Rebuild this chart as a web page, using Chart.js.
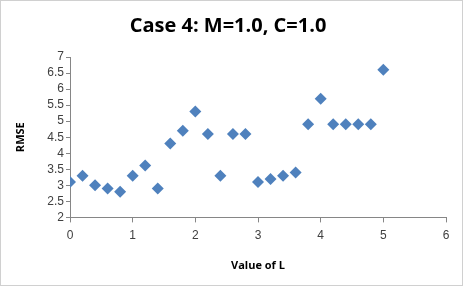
<!DOCTYPE html>
<html>
<head>
<meta charset="utf-8">
<script src="https://cdn.jsdelivr.net/npm/chart.js@4"></script>
<style>
  html, body { margin: 0; padding: 0; background: #fff; }
  #wrap { width: 466px; height: 287px; }
</style>
</head>
<body>
<div id="wrap"><canvas id="rmseChart" width="466" height="287"></canvas></div>
<script>
// L values and RMSE
const lValues = [0, 0.2, 0.4, 0.6, 0.8, 1.0, 1.2, 1.4, 1.6, 1.8, 2.0, 2.2, 2.4, 2.6, 2.8,
                 3.0, 3.2, 3.4, 3.6, 3.8, 4.0, 4.2, 4.4, 4.6, 4.8, 5.0];
const rmseValues = [3.1, 3.3, 3.0, 2.9, 2.8, 3.3, 3.62, 2.9, 4.3, 4.7, 5.3, 4.6, 3.3, 4.6, 4.6,
                    3.1, 3.2, 3.3, 3.4, 4.9, 5.7, 4.9, 4.9, 4.9, 4.9, 6.6];
const titleText = 'Case 4: M=1.0, C=1.0';
const xTitle = 'Value of L';
const yTitle = 'RMSE';

const points = lValues.map((l, i) => ({ x: l, y: rmseValues[i] }));

// thin gray frame around the whole chart, like the spreadsheet export
const framePlugin = {
    id: 'frame',
    beforeDraw(chart) {
        const ctx = chart.ctx;
        ctx.save();
        ctx.fillStyle = '#fff';
        ctx.fillRect(0, 0, chart.width, chart.height);
        ctx.strokeStyle = '#d0d0d0';
        ctx.lineWidth = 1;
        ctx.strokeRect(0.5, 0.5, chart.width - 4, chart.height - 2);
        ctx.restore();
    }
};

const ctx = document.getElementById('rmseChart').getContext('2d');
new Chart(ctx, {
    type: 'scatter',
    data: {
        datasets: [{
            label: 'RMSE',
            data: points,
            pointStyle: 'rectRot',
            pointRadius: 6,
            pointHoverRadius: 6,
            backgroundColor: '#4F81BD',
            borderColor: '#4F81BD',
            borderWidth: 0
        }]
    },
    options: {
        responsive: false,
        animation: false,
        layout: { padding: { top: 10, right: 20, bottom: 11, left: 10 } },
        plugins: {
            legend: { display: false },
            tooltip: { enabled: false },
            title: {
                display: true,
                text: titleText,
                color: '#000',
                font: { family: 'Open Sans', size: 20, weight: 'bold' },
                padding: { top: 4, bottom: 19 }
            }
        },
        scales: {
            x: {
                type: 'linear',
                min: 0,
                max: 6,
                ticks: {
                    stepSize: 1,
                    color: '#404040',
                    font: { family: 'Liberation Sans', size: 12 },
                    padding: 6
                },
                grid: {
                    drawOnChartArea: false,
                    drawTicks: true,
                    tickLength: 5,
                    color: '#868686'
                },
                border: { color: '#868686' },
                title: {
                    display: true,
                    text: xTitle,
                    color: '#000',
                    font: { family: 'Open Sans', size: 11, weight: 'bold' },
                    padding: { top: 10 }
                }
            },
            y: {
                type: 'linear',
                min: 2,
                max: 7,
                afterFit(scale) { scale.width = 60; },
                ticks: {
                    stepSize: 0.5,
                    autoSkip: false,
                    color: '#404040',
                    font: { family: 'Liberation Sans', size: 12 },
                    padding: 2,
                    callback: v => String(Number(v.toFixed(1)))
                },
                grid: {
                    drawOnChartArea: false,
                    drawTicks: true,
                    tickLength: 4,
                    color: '#868686'
                },
                border: { color: '#868686' },
                title: {
                    display: true,
                    text: yTitle,
                    color: '#000',
                    font: { family: 'Open Sans', size: 11, weight: 'bold' },
                    padding: { bottom: 6 }
                }
            }
        }
    },
    plugins: [framePlugin]
});
</script>
</body>
</html>
